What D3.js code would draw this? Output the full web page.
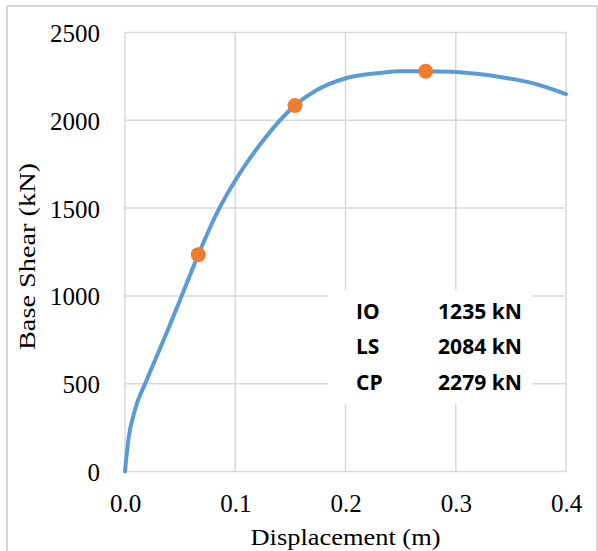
<!DOCTYPE html>
<html>
<head>
<meta charset="utf-8">
<script src="https://cdn.jsdelivr.net/npm/d3@7"></script>
<style>
  body { margin: 0; background: #fff; }
</style>
</head>
<body>
<div id="chart"></div>
<script>
const displacement = [0, 0.003, 0.009, 0.0197, 0.0287, 0.0378, 0.0499, 0.0665, 0.0832, 0.1043, 0.1255, 0.1542, 0.1739, 0.1995, 0.2313, 0.2494, 0.2727, 0.3, 0.34, 0.3704, 0.4];
const baseShear = [0, 179, 350, 521, 655, 790, 976, 1235, 1470, 1700, 1887, 2085, 2172, 2238, 2270, 2280, 2279, 2275, 2247, 2210, 2149];

const levels = ["IO", "LS", "CP"];
const levelDisp = [0.0665, 0.1542, 0.2727];
const levelShear = [1235, 2084, 2279];

const xTicks = [0, 0.1, 0.2, 0.3, 0.4];
const yTicks = [0, 500, 1000, 1500, 2000, 2500];

const margin = { top: 32.5, right: 32, bottom: 79.5, left: 125 };
const W = 598;
const H = 551;
const width = W - margin.left - margin.right;
const height = H - margin.top - margin.bottom;

const svg = d3
  .select("#chart")
  .append("svg")
  .attr("width", W)
  .attr("height", H);

// outer frame
svg
  .append("rect")
  .attr("x", 7)
  .attr("y", 6)
  .attr("width", 590)
  .attr("height", 570)
  .attr("fill", "none")
  .attr("stroke", "#d9d9d9")
  .attr("stroke-width", 2);

const g = svg
  .append("g")
  .attr("transform", `translate(${margin.left}, ${margin.top})`);

const x = d3.scaleLinear().domain([0, 0.4]).range([0, width]);
const y = d3.scaleLinear().domain([0, 2500]).range([height, 0]);

// gridlines
g.append("g")
  .selectAll("line")
  .data(xTicks)
  .join("line")
  .attr("x1", (d) => x(d))
  .attr("x2", (d) => x(d))
  .attr("y1", 0)
  .attr("y2", height)
  .attr("stroke", "#d9d9d9")
  .attr("stroke-width", 1.5);

g.append("g")
  .selectAll("line")
  .data(yTicks)
  .join("line")
  .attr("x1", 0)
  .attr("x2", width)
  .attr("y1", (d) => y(d))
  .attr("y2", (d) => y(d))
  .attr("stroke", "#d9d9d9")
  .attr("stroke-width", 1.5);

// axes (labels only)
const xAxis = g
  .append("g")
  .attr("transform", `translate(0, ${height})`)
  .call(d3.axisBottom(x).tickValues(xTicks).tickFormat(d3.format(".1f")).tickSize(0).tickPadding(0));
xAxis.select(".domain").remove();
xAxis
  .selectAll("text")
  .attr("dy", null)
  .attr("y", 40)
  .style("font-family", "'Liberation Serif', 'Times New Roman', serif")
  .style("font-size", "25px")
  .style("fill", "#000");

const yAxis = g
  .append("g")
  .call(d3.axisLeft(y).tickValues(yTicks).tickFormat(d3.format("d")).tickSize(0).tickPadding(0));
yAxis.select(".domain").remove();
yAxis
  .selectAll("text")
  .attr("dy", null)
  .attr("x", -25)
  .attr("y", 9)
  .style("font-family", "'Liberation Serif', 'Times New Roman', serif")
  .style("font-size", "25px")
  .style("fill", "#000");

// axis titles
svg
  .append("text")
  .attr("x", 345.5)
  .attr("y", 545)
  .style("text-anchor", "middle")
  .style("font-family", "'Liberation Serif', 'Times New Roman', serif")
  .style("font-size", "24px")
  .attr("textLength", 190)
  .attr("lengthAdjust", "spacingAndGlyphs")
  .text("Displacement (m)");

svg
  .append("text")
  .attr("transform", "translate(35, 256.5) rotate(-90)")
  .style("text-anchor", "middle")
  .style("font-family", "'Liberation Serif', 'Times New Roman', serif")
  .style("font-size", "23px")
  .attr("textLength", 187)
  .attr("lengthAdjust", "spacingAndGlyphs")
  .text("Base Shear (kN)");

// value box
svg
  .append("rect")
  .attr("x", 328)
  .attr("y", 290)
  .attr("width", 204)
  .attr("height", 114)
  .attr("fill", "#fff");

const rows = svg
  .append("g")
  .selectAll("g")
  .data(levels)
  .join("g")
  .attr("transform", (d, i) => `translate(0, ${319 + i * 35.3})`)
  .style("font-family", "'Open Sans', sans-serif")
  .style("font-weight", "bold")
  .style("font-size", "21px")
  .style("fill", "#000");

rows.append("text").attr("x", 356).text((d) => d);
rows
  .append("text")
  .attr("x", 438)
  .attr("textLength", 84)
  .attr("lengthAdjust", "spacingAndGlyphs")
  .text((d, i) => `${levelShear[i]} kN`);

// curve
const line = d3
  .line()
  .x((d) => x(d[0]))
  .y((d) => y(d[1]))
  .curve(d3.curveMonotoneX);

g.append("path")
  .datum(displacement.map((d, i) => [d, baseShear[i]]))
  .attr("d", line)
  .attr("fill", "none")
  .attr("stroke", "#5b9bd5")
  .attr("stroke-width", 4)
  .attr("stroke-linecap", "round")
  .attr("stroke-linejoin", "round");

g.append("g")
  .selectAll("circle")
  .data(levels)
  .join("circle")
  .attr("cx", (d, i) => x(levelDisp[i]))
  .attr("cy", (d, i) => y(levelShear[i]))
  .attr("r", 7.5)
  .attr("fill", "#ed7d31");
</script>
</body>
</html>
